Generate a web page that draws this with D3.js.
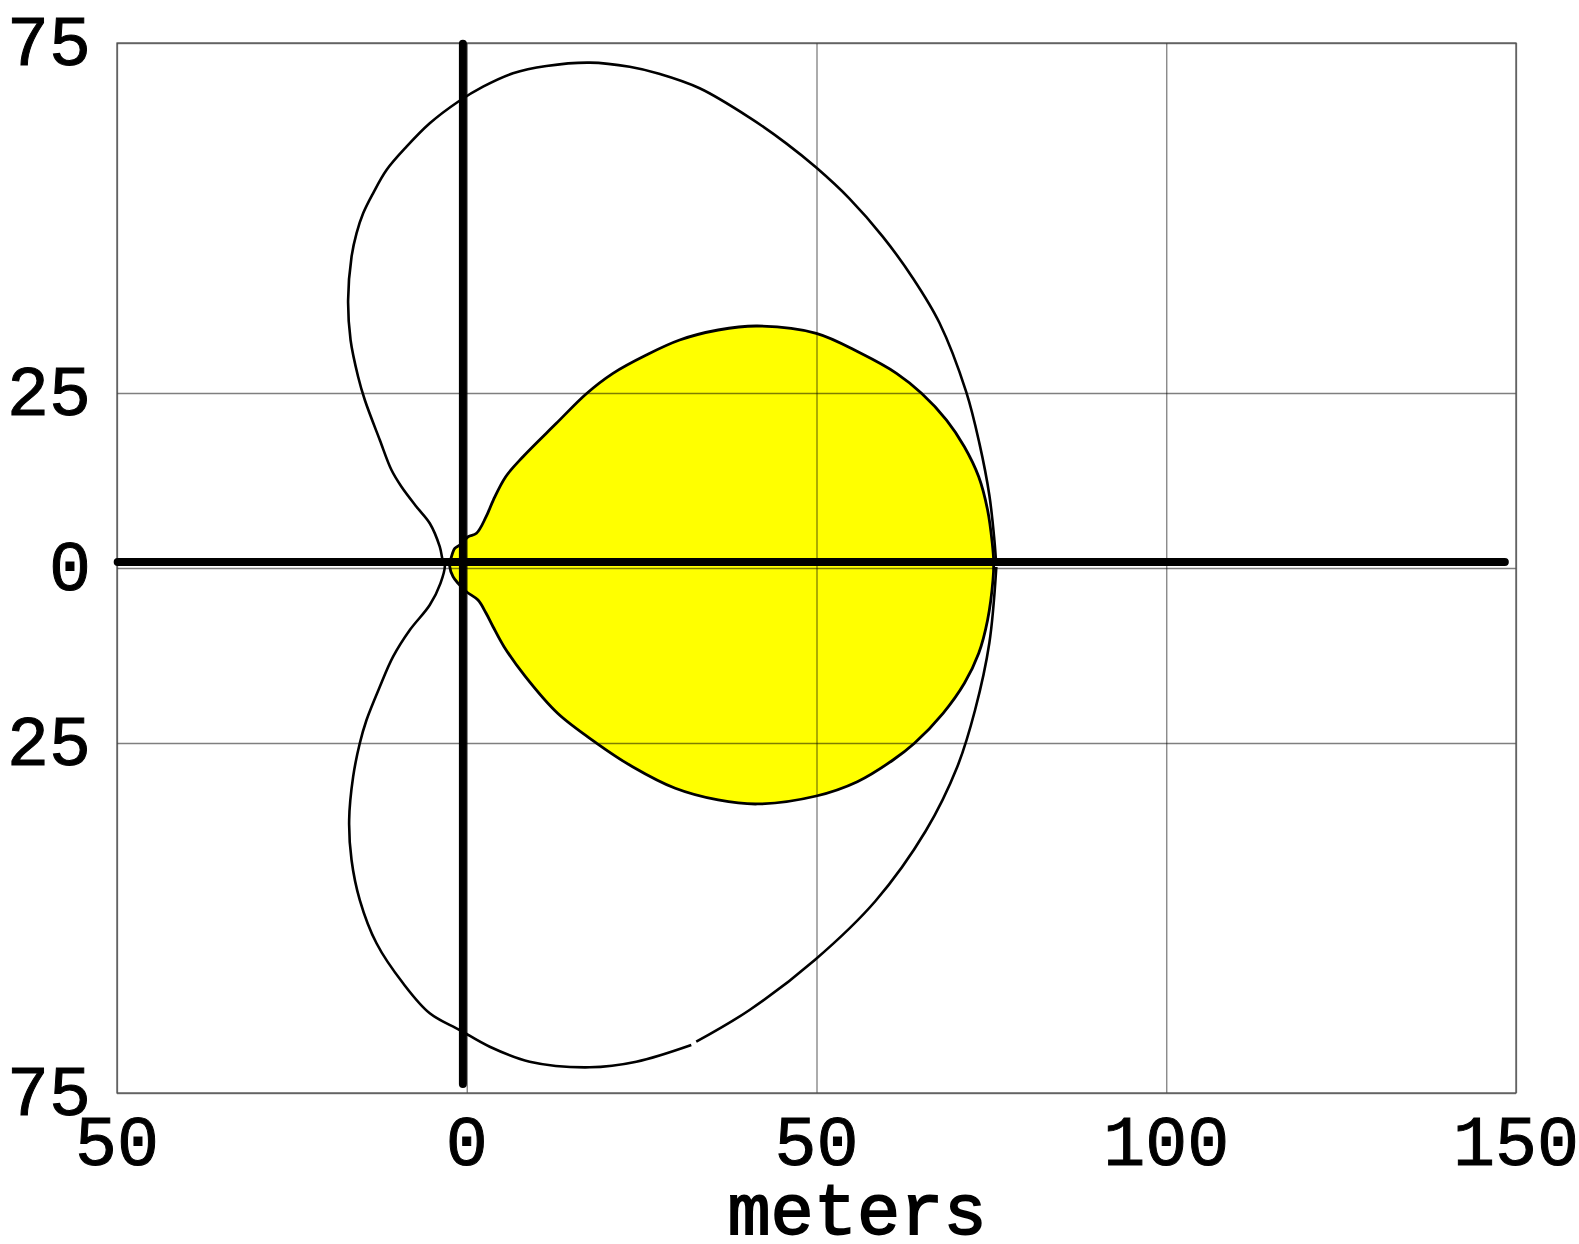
<!DOCTYPE html>
<html>
<head>
<meta charset="utf-8">
<script src="https://cdn.jsdelivr.net/npm/d3@7"></script>
<style>
    body { margin: 0; background: #fff; }
    text { font-family: "Courier New", "Liberation Mono", monospace; fill: #000; }
</style>
</head>
<body>
<svg id="chart" width="1579" height="1244"></svg>
<script>
// tick values and the labels as printed on the chart
let xTicks = [-50, 0, 50, 100, 150]
let xTickLabels = ["50", "0", "50", "100", "150"]
let yTicks = [75, 25, 0, -25, -75]
let yTickLabels = ["75", "25", "0", "25", "75"]

// outer lobe (meters); null marks the small break in the line
let outerX = [75.67, 75.43, 74.71, 73.29, 71.39, 67.57, 63.76, 59.47, 54.71, 49.96, 45.67, 40.43, 33.29, 27.5, 23.29, 17.57, 11.39, 6.61, 2.33, -1.24, -5.29, -8.61, -11.47, -13.39, -14.81, -15.76, -16.47, -16.96, -16.61, -15.53, -14.57, -12.43, -10.76, -9.33, -7.19, -5.29, -3.86, -3.39,
    -3.14, -3.76, -5.29, -8.14, -10.53, -12.43, -14.33, -15.29, -16.24, -16.81, -16.47, -15.29, -12.9, -9.1, -5.29, -1.0, 3.29, 9.0, 17.57, 24.24, 32.1, null, 32.81, 40.43, 49.8, 58.43, 65.63, 70.13, 72.67, 74.71, 75.71]
let outerY = [0.8, 4.0, 10.4, 17.8, 25.19, 35.03, 41.44, 47.34, 52.77, 57.2, 60.66, 64.34, 68.53, 70.6, 71.6, 72.19, 71.71, 70.67, 68.76, 66.61, 63.53, 60.19, 56.86, 53.53, 50.67, 47.81, 44.47, 38.29, 32.57, 27.33, 24.0, 18.29, 14.0, 11.61, 8.76, 6.39, 3.04, 0.9,
    0.43, -2.19, -5.29, -8.86, -12.67, -16.96, -21.71, -25.04, -29.81, -36.0, -41.71, -47.43, -53.61, -59.33, -63.61, -66.0, -68.39, -70.53, -71.33, -70.53, -68.14, null, -67.67, -63.14, -55.96, -47.57, -37.54, -28.39, -20.29, -10.71, 0.14]

// inner (yellow) lobe
let innerX = [75.33, 75.13, 74.46, 73.19, 71.14, 68.59, 65.01, 61.44, 56.34, 49.97, 41.56, 35.94, 30.43, 25.67, 20.9, 17.1, 12.81, 8.04, 5.57, 3.8, 2.77, 1.39, 0.19, -1.0, -1.71, -2.19, -2.43,
    -1.96, -1.24, -0.04, 1.61, 2.77, 3.76, 5.33, 8.39, 12.99, 18.59, 23.7, 29.81, 35.94, 41.56, 49.97, 55.84, 60.94, 64.0, 68.09, 71.14, 73.19, 74.46, 75.23]
let innerY = [0.9, 3.53, 8.29, 13.04, 17.33, 21.14, 24.96, 27.81, 30.67, 33.53, 34.57, 34.0, 32.57, 30.43, 27.81, 24.9, 20.67, 15.9, 13.04, 9.71, 7.33, 4.96, 4.47, 3.29, 2.81, 1.61, 0.19,
    -1.24, -2.19, -3.39, -4.57, -6.47, -8.39, -11.24, -15.53, -20.76, -25.04, -28.39, -31.47, -33.14, -33.71, -32.57, -30.53, -27.43, -25.04, -20.76, -16.47, -12.19, -7.43, -1.71]

// heavy reference lines (start x, start y, end x, end y)
let refLines = [
    [-49.9, 0.85, 148.4, 0.85],
    [-0.55, 74.9, -0.55, -73.7]
]

let plotVars = ({
    left: 117,
    top: 43,
    plotWidth: 1399,
    plotHeight: 1050,
})

let svg = d3.select("#chart")
let plotContainer = svg.append("g")
    .attr("transform", `translate(${plotVars.left}, ${plotVars.top})`)

let xScale = d3.scaleLinear()
    .domain([-50, 150])
    .range([0, plotVars.plotWidth])

let yScale = d3.scaleLinear()
    .domain([-75, 75])
    .range([plotVars.plotHeight, 0])

let outerData = outerX.map(function (d, i) { return { x: d, y: outerY[i] } })
let innerData = innerX.map(function (d, i) { return { x: d, y: innerY[i] } })

let line = d3.line()
    .defined(function (d) { return d.x !== null })
    .x(function (d) { return xScale(d.x) })
    .y(function (d) { return yScale(d.y) })

// yellow fill first, grid sits on top of it
plotContainer.append("path")
    .datum(innerData)
    .attr("d", line.curve(d3.curveCatmullRomClosed))
    .attr("fill", "#ffff00")
    .attr("stroke", "none")

// grid lines
plotContainer.append("g")
    .attr("class", "grid")
    .attr("transform", "translate(0," + plotVars.plotHeight + ")")
    .call(d3.axisBottom(xScale).tickValues(xTicks).tickSize(-plotVars.plotHeight).tickFormat(""))
plotContainer.append("g")
    .attr("class", "grid")
    .call(d3.axisLeft(yScale).tickValues(yTicks).tickSize(-plotVars.plotWidth).tickFormat(""))
plotContainer.selectAll(".grid .domain").remove()
plotContainer.selectAll(".grid line")
    .attr("stroke", "#000")
    .attr("stroke-opacity", 0.5)
    .attr("stroke-width", 1.3)

// plot frame
plotContainer.append("rect")
    .attr("x", 0)
    .attr("y", 0)
    .attr("width", plotVars.plotWidth)
    .attr("height", plotVars.plotHeight)
    .attr("fill", "none")
    .attr("stroke", "#555")
    .attr("stroke-width", 1.3)

// outer lobe
plotContainer.append("path")
    .datum(outerData)
    .attr("d", line.curve(d3.curveCatmullRom))
    .attr("fill", "none")
    .attr("stroke", "#000")
    .attr("stroke-width", 2.6)
    .attr("stroke-linejoin", "round")

// inner lobe outline
plotContainer.append("path")
    .datum(innerData)
    .attr("d", line.curve(d3.curveCatmullRomClosed))
    .attr("fill", "none")
    .attr("stroke", "#000")
    .attr("stroke-width", 2.8)
    .attr("stroke-linejoin", "round")

// heavy axes through the origin
plotContainer.selectAll("refline")
    .data(refLines)
    .enter()
    .append("line")
    .attr("x1", function (d) { return xScale(d[0]) })
    .attr("y1", function (d) { return yScale(d[1]) })
    .attr("x2", function (d) { return xScale(d[2]) })
    .attr("y2", function (d) { return yScale(d[3]) })
    .attr("stroke", "#000")
    .attr("stroke-width", 8)
    .attr("stroke-linecap", "round")

// tick labels
plotContainer.selectAll("xlabel")
    .data(xTicks)
    .enter()
    .append("text")
    .attr("x", function (d) { return xScale(d) })
    .attr("y", plotVars.plotHeight + 72)
    .style("text-anchor", "middle")
    .style("font-size", "70px")
    .style("stroke", "#000")
    .style("stroke-width", 1)
    .text(function (d, i) { return xTickLabels[i] })

plotContainer.selectAll("ylabel")
    .data(yTicks)
    .enter()
    .append("text")
    .attr("x", -26)
    .attr("y", function (d) { return yScale(d) + 22 })
    .style("text-anchor", "end")
    .style("font-size", "70px")
    .style("stroke", "#000")
    .style("stroke-width", 1)
    .text(function (d, i) { return yTickLabels[i] })

// x axis title
svg.append("text")
    .attr("x", 857)
    .attr("y", 1234)
    .style("text-anchor", "middle")
    .style("font-size", "72px")
    .style("stroke", "#000")
    .style("stroke-width", 1.8)
    .text("meters")
</script>
</body>
</html>
